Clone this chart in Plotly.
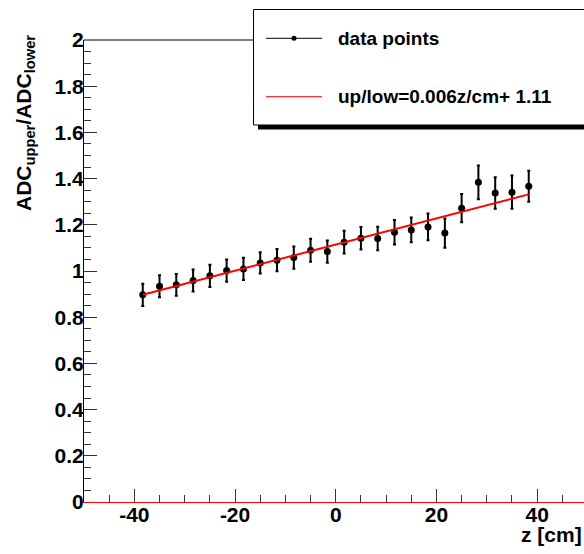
import plotly.graph_objects as go

# ---- data ----
z_cm = [-38.33, -35.0, -31.67, -28.33, -25.0, -21.67, -18.33, -15.0, -11.67, -8.33,
        -5.0, -1.67, 1.67, 5.0, 8.33, 11.67, 15.0, 18.33, 21.67, 25.0, 28.33, 31.67,
        35.0, 38.33]
ratio = [0.897, 0.934, 0.940, 0.959, 0.979, 1.002, 1.009, 1.035, 1.047, 1.058,
         1.090, 1.084, 1.125, 1.142, 1.141, 1.168, 1.178, 1.191, 1.164, 1.272,
         1.384, 1.338, 1.341, 1.367]
ratio_err = [0.048, 0.048, 0.047, 0.048, 0.048, 0.048, 0.048, 0.046, 0.048, 0.048,
             0.050, 0.048, 0.049, 0.049, 0.051, 0.053, 0.054, 0.058, 0.063, 0.061,
             0.073, 0.068, 0.072, 0.067]
fit_slope = 0.00567
fit_intercept = 1.1145

x_tickvals = [-40, -20, 0, 20, 40]
x_ticktext = ["-40", "-20", "0", "20", "40"]
y_tickvals = [0, 0.2, 0.4, 0.6, 0.8, 1.0, 1.2, 1.4, 1.6, 1.8, 2.0]
y_ticktext = ["0", "0.2", "0.4", "0.6", "0.8", "1", "1.2", "1.4", "1.6", "1.8", "2"]

legend_labels = ["data points", "up/low=0.006z/cm+ 1.11"]
x_title = "z [cm]"
y_title = "ADC<sub>upper</sub>/ADC<sub>lower</sub>"

# ---- layout geometry (pixels) ----
W, H = 584, 554
ML, MR, MT, MB = 84, 0, 40, 52
PW, PH = W - ML - MR, H - MT - MB
FONT = "Liberation Sans, Arial, sans-serif"
X_MAX = -50 + PW / 5.035  # axis keeps 5.035 px per cm, right frame falls off-page


def px(xp):
    return (xp - ML) / PW


def py(yp):
    return (H - MB - yp) / PH


fig = go.Figure()

fig.add_trace(go.Scatter(
    x=z_cm, y=ratio, mode="markers",
    marker=dict(color="black", size=7, symbol="circle"),
    error_y=dict(type="data", array=ratio_err, visible=True,
                 color="black", thickness=2, width=1.5),
    showlegend=False, cliponaxis=False))

fit_x = [z_cm[0], z_cm[-1]]
fit_y = [fit_slope * v + fit_intercept for v in fit_x]
fig.add_trace(go.Scatter(
    x=fit_x, y=fit_y, mode="lines",
    line=dict(color="red", width=2), showlegend=False))

shapes = []
# top frame line
shapes.append(dict(type="line", xref="paper", yref="paper", x0=0, x1=1, y0=1, y1=1,
                   line=dict(color="black", width=1), layer="above"))
# legend shadow and box
shapes.append(dict(type="rect", xref="paper", yref="paper",
                   x0=px(258), x1=px(600), y0=py(129.5), y1=py(124.5),
                   fillcolor="black", line=dict(width=0), layer="above"))
shapes.append(dict(type="rect", xref="paper", yref="paper",
                   x0=px(253.5), x1=px(600), y0=py(125), y1=py(9.5),
                   fillcolor="white", line=dict(color="black", width=1), layer="above"))
# legend symbols
shapes.append(dict(type="line", xref="paper", yref="paper",
                   x0=px(266), x1=px(322), y0=py(38.3), y1=py(38.3),
                   line=dict(color="black", width=1), layer="above"))
shapes.append(dict(type="circle", xref="paper", yref="paper",
                   x0=px(291.5), x1=px(296.5), y0=py(40.8), y1=py(35.8),
                   fillcolor="black", line=dict(color="black", width=0), layer="above"))
shapes.append(dict(type="line", xref="paper", yref="paper",
                   x0=px(266), x1=px(322), y0=py(96.7), y1=py(96.7),
                   line=dict(color="red", width=1), layer="above"))

annotations = [
    dict(text=legend_labels[0], xref="paper", yref="paper", x=px(336), y=py(38.3),
         xanchor="left", yanchor="middle", showarrow=False,
         font=dict(family=FONT, size=19, weight="bold", color="black")),
    dict(text=legend_labels[1], xref="paper", yref="paper", x=px(336), y=py(96.7),
         xanchor="left", yanchor="middle", showarrow=False,
         font=dict(family=FONT, size=19, weight="bold", color="black")),
    dict(text=x_title, xref="paper", yref="paper", x=px(584), y=py(534),
         xanchor="right", yanchor="middle", showarrow=False,
         font=dict(family=FONT, size=21, weight="bold", color="black")),
    dict(text=y_title, xref="paper", yref="paper", x=px(25), y=py(33),
         xanchor="center", yanchor="top", textangle=-90, showarrow=False,
         font=dict(family=FONT, size=21, weight="bold", color="black")),
]

fig.update_layout(
    width=W, height=H,
    margin=dict(l=ML, r=MR, t=MT, b=MB, pad=0),
    paper_bgcolor="white", plot_bgcolor="white",
    showlegend=False,
    shapes=shapes, annotations=annotations,
    xaxis=dict(range=[-50, X_MAX], showgrid=False, zeroline=False,
               showline=True, linecolor="red", linewidth=1,
               ticks="inside", ticklen=13, tickwidth=1, tickcolor="#333",
               tickvals=x_tickvals, ticktext=x_ticktext, ticklabelstandoff=-6,
               tickfont=dict(family=FONT, size=21, weight="bold", color="black"),
               minor=dict(dtick=5, tick0=0, ticks="inside", ticklen=7,
                          tickcolor="#333", tickwidth=1, showgrid=False)),
    yaxis=dict(range=[0, 2], showgrid=False, zeroline=False,
               showline=True, linecolor="black", linewidth=1,
               ticks="inside", ticklen=13, tickwidth=1, tickcolor="#333",
               tickvals=y_tickvals, ticktext=y_ticktext, ticklabelstandoff=-5,
               tickfont=dict(family=FONT, size=21, weight="bold", color="black"),
               minor=dict(dtick=0.05, tick0=0, ticks="inside", ticklen=7,
                          tickcolor="#333", tickwidth=1, showgrid=False)),
)

fig.write_html("out.html",
               config={"displayModeBar": False},
               post_script="document.body.style.margin='0';document.body.style.overflow='hidden';")
